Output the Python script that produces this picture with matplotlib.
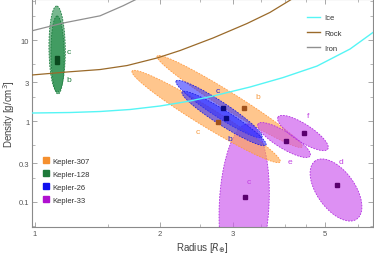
import numpy as np
import matplotlib
matplotlib.use("Agg")
import matplotlib.pyplot as plt
from matplotlib.lines import Line2D
from matplotlib.ticker import FixedLocator, NullFormatter

# composition curves (radius [R_earth], density [g/cm^3])
ice_r = [0.983, 1.214, 1.434, 1.694, 2.001, 2.363, 2.685, 3.297, 3.96, 4.78, 5.74, 6.52]
ice_rho = [1.255, 1.273, 1.31, 1.387, 1.532, 1.766, 2.035, 2.63, 3.44, 4.77, 7.74, 12.4]
rock_r = [0.983, 1.194, 1.434, 1.666, 1.968, 2.236, 2.685, 3.242, 3.68, 4.16]
rock_rho = [3.70, 4.03, 4.32, 4.84, 6.0, 7.42, 10.6, 16.0, 21.9, 32.1]
iron_r = [0.983, 1.168, 1.434, 1.63, 1.759]
iron_rho = [13.0, 16.2, 19.9, 26.5, 32.1]

# posterior ellipses: system, planet, centre, tip of major axis, minor/major ratio
ell_sys = ["Kepler-33", "Kepler-307", "Kepler-307", "Kepler-26", "Kepler-26",
           "Kepler-33", "Kepler-33", "Kepler-33", "Kepler-128", "Kepler-128"]
ell_planet = ["c", "b", "c", "c", "b", "d", "e", "f", "c", "b"]
ell_r = [3.19, 2.943, 2.583, 2.776, 2.853, 5.31, 3.98, 4.42, 1.130, 1.133]
ell_rho = [0.094, 1.741, 1.137, 1.406, 1.074, 0.1406, 0.582, 0.711, 7.74, 6.53]
tip_r = [3.26, 1.968, 1.713, 2.187, 2.261, 4.73, 3.445, 3.85, 1.127, 1.130]
tip_rho = [0.918, 6.34, 4.14, 3.118, 2.28, 0.321, 0.918, 1.12, 26.3, 19.8]
ell_ratio = [0.31, 0.10, 0.11, 0.15, 0.15, 0.53, 0.27, 0.30, 0.19, 0.17]

# best-fit points
pt_r = [3.21, 3.19, 2.76, 2.84, 2.885, 5.34, 4.03, 4.45, 1.13, 1.13]
pt_rho = [0.115, 1.447, 0.972, 1.447, 1.089, 0.162, 0.567, 0.711, 6.0, 5.35]

# planet letter positions
lab_r = [3.28, 3.445, 2.47, 2.76, 2.95, 5.46, 4.12, 4.55, 1.208, 1.208]
lab_rho = [0.177, 2.035, 0.732, 2.41, 0.60, 0.312, 0.312, 1.153, 7.31, 3.30]

systems = ["Kepler-307", "Kepler-128", "Kepler-26", "Kepler-33"]
fill_col = {"Kepler-307": "#ffa850", "Kepler-128": "#1f8a45",
            "Kepler-26": "#3030ff", "Kepler-33": "#cc55ee"}
edge_col = {"Kepler-307": "#ff9a40", "Kepler-128": "#1a7a3c",
            "Kepler-26": "#2020e0", "Kepler-33": "#b030e0"}
pt_col = {"Kepler-307": "#a0521d", "Kepler-128": "#0a4a1e",
          "Kepler-26": "#0a0a80", "Kepler-33": "#5a006e"}
legend_col = {"Kepler-307": "#f5902e", "Kepler-128": "#1e7a3a",
              "Kepler-26": "#1010ee", "Kepler-33": "#b010d0"}
text_col = {"Kepler-307": "#f59a40", "Kepler-128": "#1e7a3a",
            "Kepler-26": "#2020dd", "Kepler-33": "#c040e0"}
alphas = {"Kepler-307": 0.65, "Kepler-128": 0.6, "Kepler-26": 0.6, "Kepler-33": 0.65}

plt.rcParams.update({
    "font.family": ["Liberation Sans", "DejaVu Sans"],
    "font.size": 5.5,
    "axes.linewidth": 0.8,
    "axes.edgecolor": "#8a8a8a",
})

fig = plt.figure(figsize=(3.74, 2.55), dpi=100)
ax = fig.add_axes([32 / 374, 27 / 255, 341 / 374, 228 / 255])
ax.set_xscale("log")
ax.set_yscale("log")
ax.set_xlim(0.983, 6.52)
ax.set_ylim(0.0491, 32.1)


def ellipse_xy(ax, c, tip, ratio, n=200):
    cd = ax.transData.transform(c)
    td = ax.transData.transform(tip)
    u = td - cd
    v = np.array([-u[1], u[0]]) * ratio
    t = np.linspace(0, 2 * np.pi, n)
    pts = cd + np.outer(np.cos(t), u) + np.outer(np.sin(t), v)
    data = ax.transData.inverted().transform(pts)
    return data[:, 0], data[:, 1]


for i in range(len(ell_sys)):
    s = ell_sys[i]
    xs, ys = ellipse_xy(ax, (ell_r[i], ell_rho[i]), (tip_r[i], tip_rho[i]), ell_ratio[i])
    ax.fill(xs, ys, color=fill_col[s], alpha=alphas[s], linewidth=0, zorder=2 + i * 0.1)
    ax.plot(xs, ys, color=edge_col[s], linewidth=0.6, linestyle=(0, (2, 1.5)),
            zorder=2 + i * 0.1)

ax.plot(ice_r, ice_rho, color="#55f5f5", linewidth=1.0, zorder=4)
ax.plot(rock_r, rock_rho, color="#9a6a2a", linewidth=0.9, zorder=4)
ax.plot(iron_r, iron_rho, color="#909090", linewidth=0.9, zorder=4)

for i in range(len(ell_sys)):
    s = ell_sys[i]
    ax.plot(pt_r[i], pt_rho[i], marker="s", markersize=2.6, color=pt_col[s],
            linestyle="none", zorder=5)
    ax.text(lab_r[i], lab_rho[i], ell_planet[i], color=text_col[s], fontsize=6,
            ha="center", va="center", zorder=6)

ax.xaxis.set_major_locator(FixedLocator([1, 2, 3, 5]))
ax.xaxis.set_minor_locator(FixedLocator([1.5, 2.5, 3.5, 4, 4.5, 6]))
ax.set_xticklabels(["1", "2", "3", "5"])
ax.xaxis.set_minor_formatter(NullFormatter())
ax.yaxis.set_major_locator(FixedLocator([0.1, 0.3, 1, 3, 10]))
ax.yaxis.set_minor_locator(FixedLocator([0.05, 0.2, 0.5, 2, 5, 20, 30]))
ax.set_yticklabels(["0.1", "0.3", "1", "3", "10"])
ax.yaxis.set_minor_formatter(NullFormatter())
ax.tick_params(which="both", direction="in", top=True, right=True,
               color="#9a9a9a", labelcolor="#555555", labelsize=5.5, pad=2)
ax.tick_params(which="major", length=3.5, width=0.6)
ax.tick_params(which="minor", length=2, width=0.5)

ax.set_xlabel(r"Radius [$R_{\oplus}$]", fontsize=7, color="#444444", labelpad=2)
ax.set_ylabel(r"Density [g/cm$^3$]", fontsize=7, color="#444444", labelpad=1.5)

comp = [Line2D([], [], color="#55f5f5", lw=1.0),
        Line2D([], [], color="#9a6a2a", lw=1.0),
        Line2D([], [], color="#909090", lw=1.0)]
leg1 = ax.legend(comp, ["Ice", "Rock", "Iron"], loc="upper left",
                 bbox_to_anchor=(0.785, 0.965), frameon=False, fontsize=5.5,
                 handlelength=1.8, handletextpad=0.5, labelspacing=1.05,
                 labelcolor="#333333")
ax.add_artist(leg1)

sq = [Line2D([], [], marker="s", markersize=4, linestyle="none",
             color=legend_col[s]) for s in systems]
ax.legend(sq, systems, loc="upper left", bbox_to_anchor=(0.01, 0.335),
          frameon=False, fontsize=5.5, handlelength=1.0, handletextpad=0.3,
          labelspacing=0.75, labelcolor="#333333")

fig.savefig("out.png", dpi=100, facecolor="white")
